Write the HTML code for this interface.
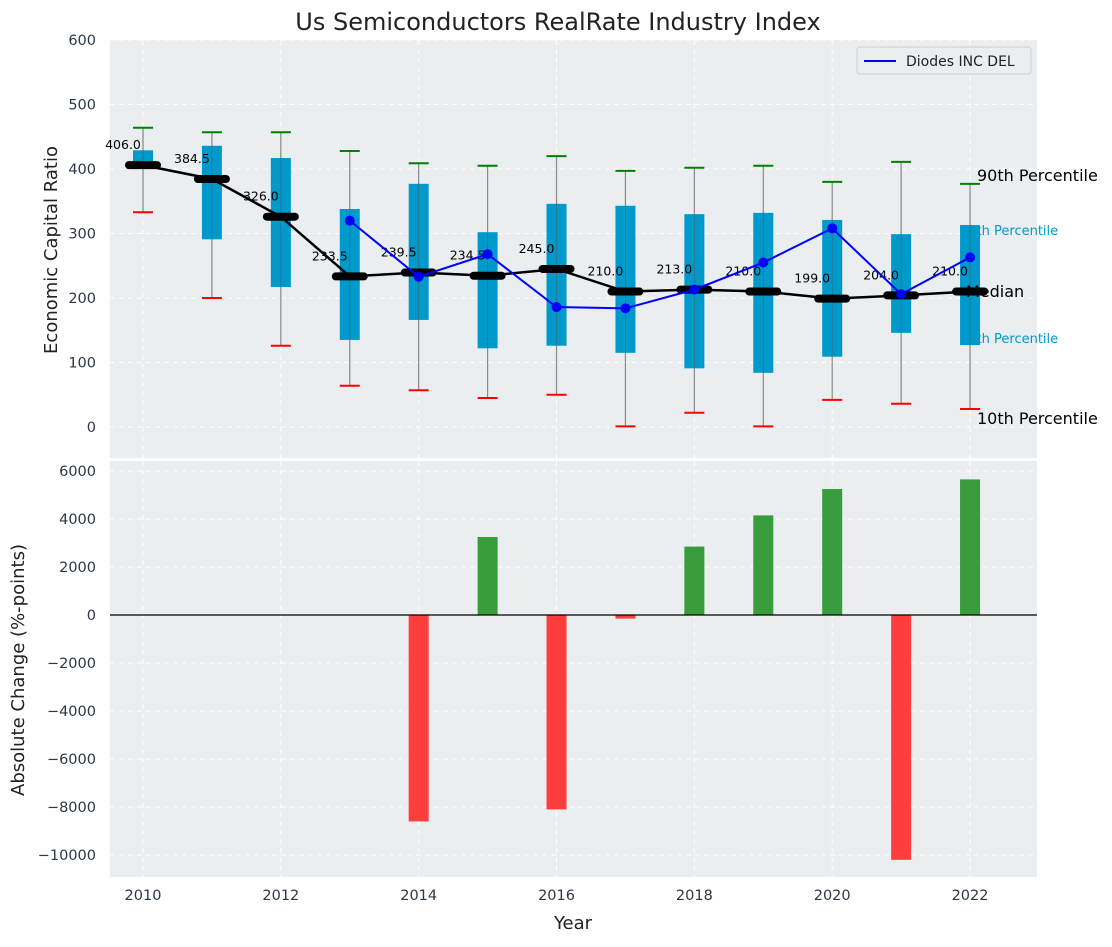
<!DOCTYPE html>
<html><head><meta charset="utf-8"><style>
body{margin:0;background:#fff;font-family:"Liberation Sans","DejaVu Sans",sans-serif}
svg text{font-family:"DejaVu Sans","Liberation Sans",sans-serif}
</style></head><body>
<svg id="chart" width="1112" height="942" xmlns="http://www.w3.org/2000/svg">
<rect width="1112" height="942" fill="#fff"/>
<text x="558" y="30" font-size="24" text-anchor="middle" fill="#222">Us Semiconductors RealRate Industry Index</text>
<g id="topPanel"></g>
<g id="botPanel"></g>
<text x="57" y="250" font-size="18" fill="#222" text-anchor="middle" transform="rotate(-90 57 250)">Economic Capital Ratio</text>
<text x="24" y="670" font-size="18" fill="#222" text-anchor="middle" transform="rotate(-90 24 670)">Absolute Change (%-points)</text>
<text x="573" y="929" font-size="18" fill="#222" text-anchor="middle">Year</text>
</svg>
<script>
const years=[2010,2011,2012,2013,2014,2015,2016,2017,2018,2019,2020,2021,2022];
const p90=[464,457,457,428,409,405,420,397,402,405,380,411,377];
const p75=[429,436,417,338,377,302,346,343,330,332,321,299,313];
const median=[406.0,384.5,326.0,233.5,239.5,234.5,245.0,210.0,213.0,210.0,199.0,204.0,210.0];
const p25=[405,291,217,135,166,122,126,115,91,84,109,146,127];
const p10=[333,200,126,64,57,45,50,1,22,1,42,36,28];
const companyYears=[2013,2014,2015,2016,2017,2018,2019,2020,2021,2022];
const companyValues=[320,233,268,186,184,213,255,308,206,263];
const changeYears=[2010,2011,2012,2013,2014,2015,2016,2017,2018,2019,2020,2021,2022];
const changeValues=[0,0,0,0,-8600,3250,-8100,-150,2850,4150,5250,-10200,5650];
const topTicks=[0,100,200,300,400,500,600];
const botTicks=[-10000,-8000,-6000,-4000,-2000,0,2000,4000,6000];
const xTicks=[2010,2012,2014,2016,2018,2020,2022];

const NS="http://www.w3.org/2000/svg";
function mk(p,t,a){const e=document.createElementNS(NS,t);for(const k in a)e.setAttribute(k,a[k]);p.appendChild(e);return e;}
function nm(e,n){}
function dn(e){}
const X=y=>143+(y-2010)*68.92;
const YT=v=>427-v*0.645;
const YB=v=>615-v*0.024;
const L=110,R=1037;
const topG=document.getElementById('topPanel'),botG=document.getElementById('botPanel');
let e=mk(topG,'rect',{x:L,y:40,width:R-L,height:418,fill:'#eaeef0'});
nm(e,'top-plot-area');dn(e);
e=mk(botG,'rect',{x:L,y:461,width:R-L,height:416,fill:'#eaeef0'});
nm(e,'bottom-plot-area');dn(e);
xTicks.forEach(t=>{
 mk(topG,'line',{x1:X(t),x2:X(t),y1:40,y2:458,stroke:'#fff','stroke-dasharray':'5,4','stroke-width':1});
 mk(botG,'line',{x1:X(t),x2:X(t),y1:461,y2:877,stroke:'#fff','stroke-dasharray':'5,4','stroke-width':1});
 e=mk(botG,'text',{x:X(t),y:900,'font-size':14.5,fill:'#2d3748','text-anchor':'middle'});e.textContent=t;
 nm(e,'x-tick-label');dn(e);
});
topTicks.forEach(t=>{
 mk(topG,'line',{x1:L,x2:R,y1:YT(t),y2:YT(t),stroke:'#fff','stroke-dasharray':'5,4','stroke-width':1});
 e=mk(topG,'text',{x:96,y:YT(t)+5,'font-size':14.5,fill:'#2d3748','text-anchor':'end'});e.textContent=t;
 nm(e,'y-tick-label-top');dn(e);
});
botTicks.forEach(t=>{
 mk(botG,'line',{x1:L,x2:R,y1:YB(t),y2:YB(t),stroke:'#fff','stroke-dasharray':'5,4','stroke-width':1});
 e=mk(botG,'text',{x:96,y:YB(t)+5,'font-size':14.5,fill:'#2d3748','text-anchor':'end'});e.textContent=t<0?'\u2212'+(-t):t;
 nm(e,'y-tick-label-bottom');dn(e);
});
const lab=[[977,181,'90th Percentile',16,'#000'],[960,235,'75th Percentile',13,'#0099cc'],[960,343,'25th Percentile',13,'#0099cc'],[977,424,'10th Percentile',16,'#000']];
lab.forEach(l=>{e=mk(topG,'text',{x:l[0],y:l[1],'font-size':l[3],fill:l[4]});e.textContent=l[2];
 nm(e,'percentile-label');dn(e);});
years.forEach((y,i)=>{
 const x=X(y);
 e=mk(topG,'line',{x1:x,x2:x,y1:YT(p90[i]),y2:YT(p10[i]),stroke:'#888','stroke-width':1.2});
 nm(e,'whisker');dn(e);
 e=mk(topG,'rect',{x:x-10,y:YT(p75[i]),width:20,height:YT(p25[i])-YT(p75[i]),fill:'#0099cc'});
 nm(e,'iqr-box');dn(e);
 mk(topG,'line',{x1:x,x2:x,y1:YT(p75[i]),y2:YT(p25[i]),stroke:'#555','stroke-width':0.8,opacity:0.6});
 e=mk(topG,'line',{x1:x-10,x2:x+10,y1:YT(p90[i]),y2:YT(p90[i]),stroke:'green','stroke-width':2});
 nm(e,'p90-cap');dn(e);
 e=mk(topG,'line',{x1:x-10,x2:x+10,y1:YT(p10[i]),y2:YT(p10[i]),stroke:'red','stroke-width':2});
 nm(e,'p10-cap');dn(e);
});
e=mk(topG,'polyline',{points:years.map((y,i)=>X(y)+','+YT(median[i])).join(' '),fill:'none',stroke:'#000','stroke-width':2.5});
nm(e,'median-line');dn(e);
years.forEach((y,i)=>{
 e=mk(topG,'line',{x1:X(y)-14,x2:X(y)+14,y1:YT(median[i]),y2:YT(median[i]),stroke:'#000','stroke-width':8,'stroke-linecap':'round'});
 nm(e,'median-marker');dn(e);
 e=mk(topG,'text',{x:X(y)-20,y:YT(median[i])-16,'font-size':12.5,fill:'#000','text-anchor':'middle'});e.textContent=median[i].toFixed(1);
 nm(e,'median-value-label');dn(e);
});
e=mk(topG,'polyline',{points:companyYears.map((y,i)=>X(y)+','+YT(companyValues[i])).join(' '),fill:'none',stroke:'#0000ff','stroke-width':2});
nm(e,'company-line');dn(e);
companyYears.forEach((y,i)=>{e=mk(topG,'circle',{cx:X(y),cy:YT(companyValues[i]),r:5,fill:'#0000ff'});
 nm(e,'company-point');dn(e);});
e=mk(topG,'text',{x:966,y:297,'font-size':16,fill:'#000'});e.textContent='Median';
nm(e,'median-label');dn(e);
const lg=mk(topG,'g',{});
nm(lg,'legend');dn(lg);
mk(lg,'rect',{x:857,y:47,width:174,height:27,rx:3,fill:'#eaeef0',stroke:'#ccc'});
mk(lg,'line',{x1:864,x2:896,y1:61,y2:61,stroke:'#0000ff','stroke-width':2});
e=mk(lg,'text',{x:906,y:66,'font-size':14,fill:'#222'});e.textContent='Diodes INC DEL';
changeYears.forEach((y,i)=>{
 const v=changeValues[i];if(v===0)return;
 const y0=YB(Math.max(v,0)),h=Math.abs(YB(v)-YB(0));
 e=mk(botG,'rect',{x:X(y)-10,y:y0,width:20,height:h,fill:v>0?'#2e9632':'#ff3333',opacity:0.95});
 nm(e,'change-bar');dn(e);
});
mk(botG,'line',{x1:L,x2:R,y1:YB(0),y2:YB(0),stroke:'#000','stroke-width':1.2});
</script>
</body></html>
